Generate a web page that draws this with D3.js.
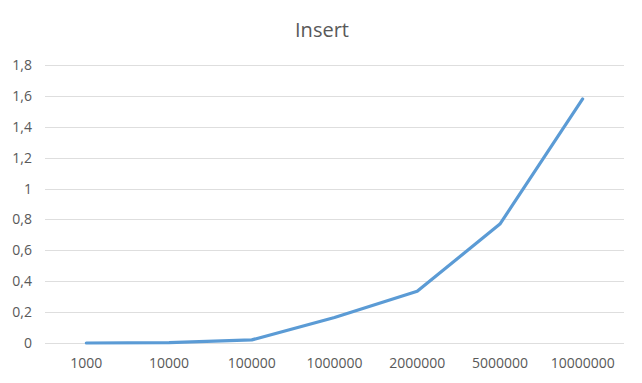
<!DOCTYPE html>
<html>
<head>
<meta charset="utf-8">
<script src="https://cdn.jsdelivr.net/npm/d3@7"></script>
<style>
  body { margin: 0; background: #fff; }
  text { font-family: "Open Sans", "Liberation Sans", sans-serif; fill: #595959; }
</style>
</head>
<body>
<div id="chart"></div>
<script>
// chart data
var categories = ["1000", "10000", "100000", "1000000", "2000000", "5000000", "10000000"];
var insertTimes = [0, 0.002, 0.02, 0.165, 0.335, 0.77, 1.58];
var yTicks = [0, 0.2, 0.4, 0.6, 0.8, 1, 1.2, 1.4, 1.6, 1.8];

var width = 642;
var height = 383;

// plot area (not called "top" - that one is taken by window.top)
var plotLeft = 45, plotRight = 624, plotTop = 65, plotBottom = 343;

var svg = d3.select("#chart")
  .append("svg")
  .attr("width", width)
  .attr("height", height);

var xScale = d3.scaleBand()
  .domain(categories)
  .range([plotLeft, plotRight]);

var yScale = d3.scaleLinear()
  .domain([0, 1.8])
  .range([plotBottom, plotTop]);

// comma decimal like the original
var fmt = function(d) { return String(d3.format("~g")(d)).replace(".", ","); };

// gridlines + y labels
var yAxis = d3.axisLeft(yScale)
  .tickValues(yTicks)
  .tickSize(-(plotRight - plotLeft))
  .tickPadding(13)
  .tickFormat(fmt);

var gy = svg.append("g")
  .attr("transform", "translate(" + plotLeft + ",0)")
  .call(yAxis);
gy.select(".domain").remove();
gy.selectAll("line").attr("stroke", "#dedede").attr("shape-rendering", "crispEdges");
gy.selectAll("text").style("font-size", "14px").attr("fill", "#595959");

// x labels
var xAxis = d3.axisBottom(xScale).tickSize(0).tickPadding(15);
var gx = svg.append("g")
  .attr("transform", "translate(0," + plotBottom + ")")
  .call(xAxis);
gx.select(".domain").remove();
gx.selectAll("text").style("font-size", "14px").attr("fill", "#595959");

// the line
var line = d3.line()
  .x(function(d, i) { return xScale(categories[i]) + xScale.bandwidth() / 2; })
  .y(function(d) { return yScale(d); });

svg.append("path")
  .datum(insertTimes)
  .attr("d", line)
  .attr("fill", "none")
  .attr("stroke", "#5b9bd5")
  .attr("stroke-width", 3.2)
  .attr("stroke-linecap", "round")
  .attr("stroke-linejoin", "round");

// title
svg.append("text")
  .attr("x", 322)
  .attr("y", 37)
  .attr("text-anchor", "middle")
  .style("font-size", "20px")
  .text("Insert");
</script>
</body>
</html>
